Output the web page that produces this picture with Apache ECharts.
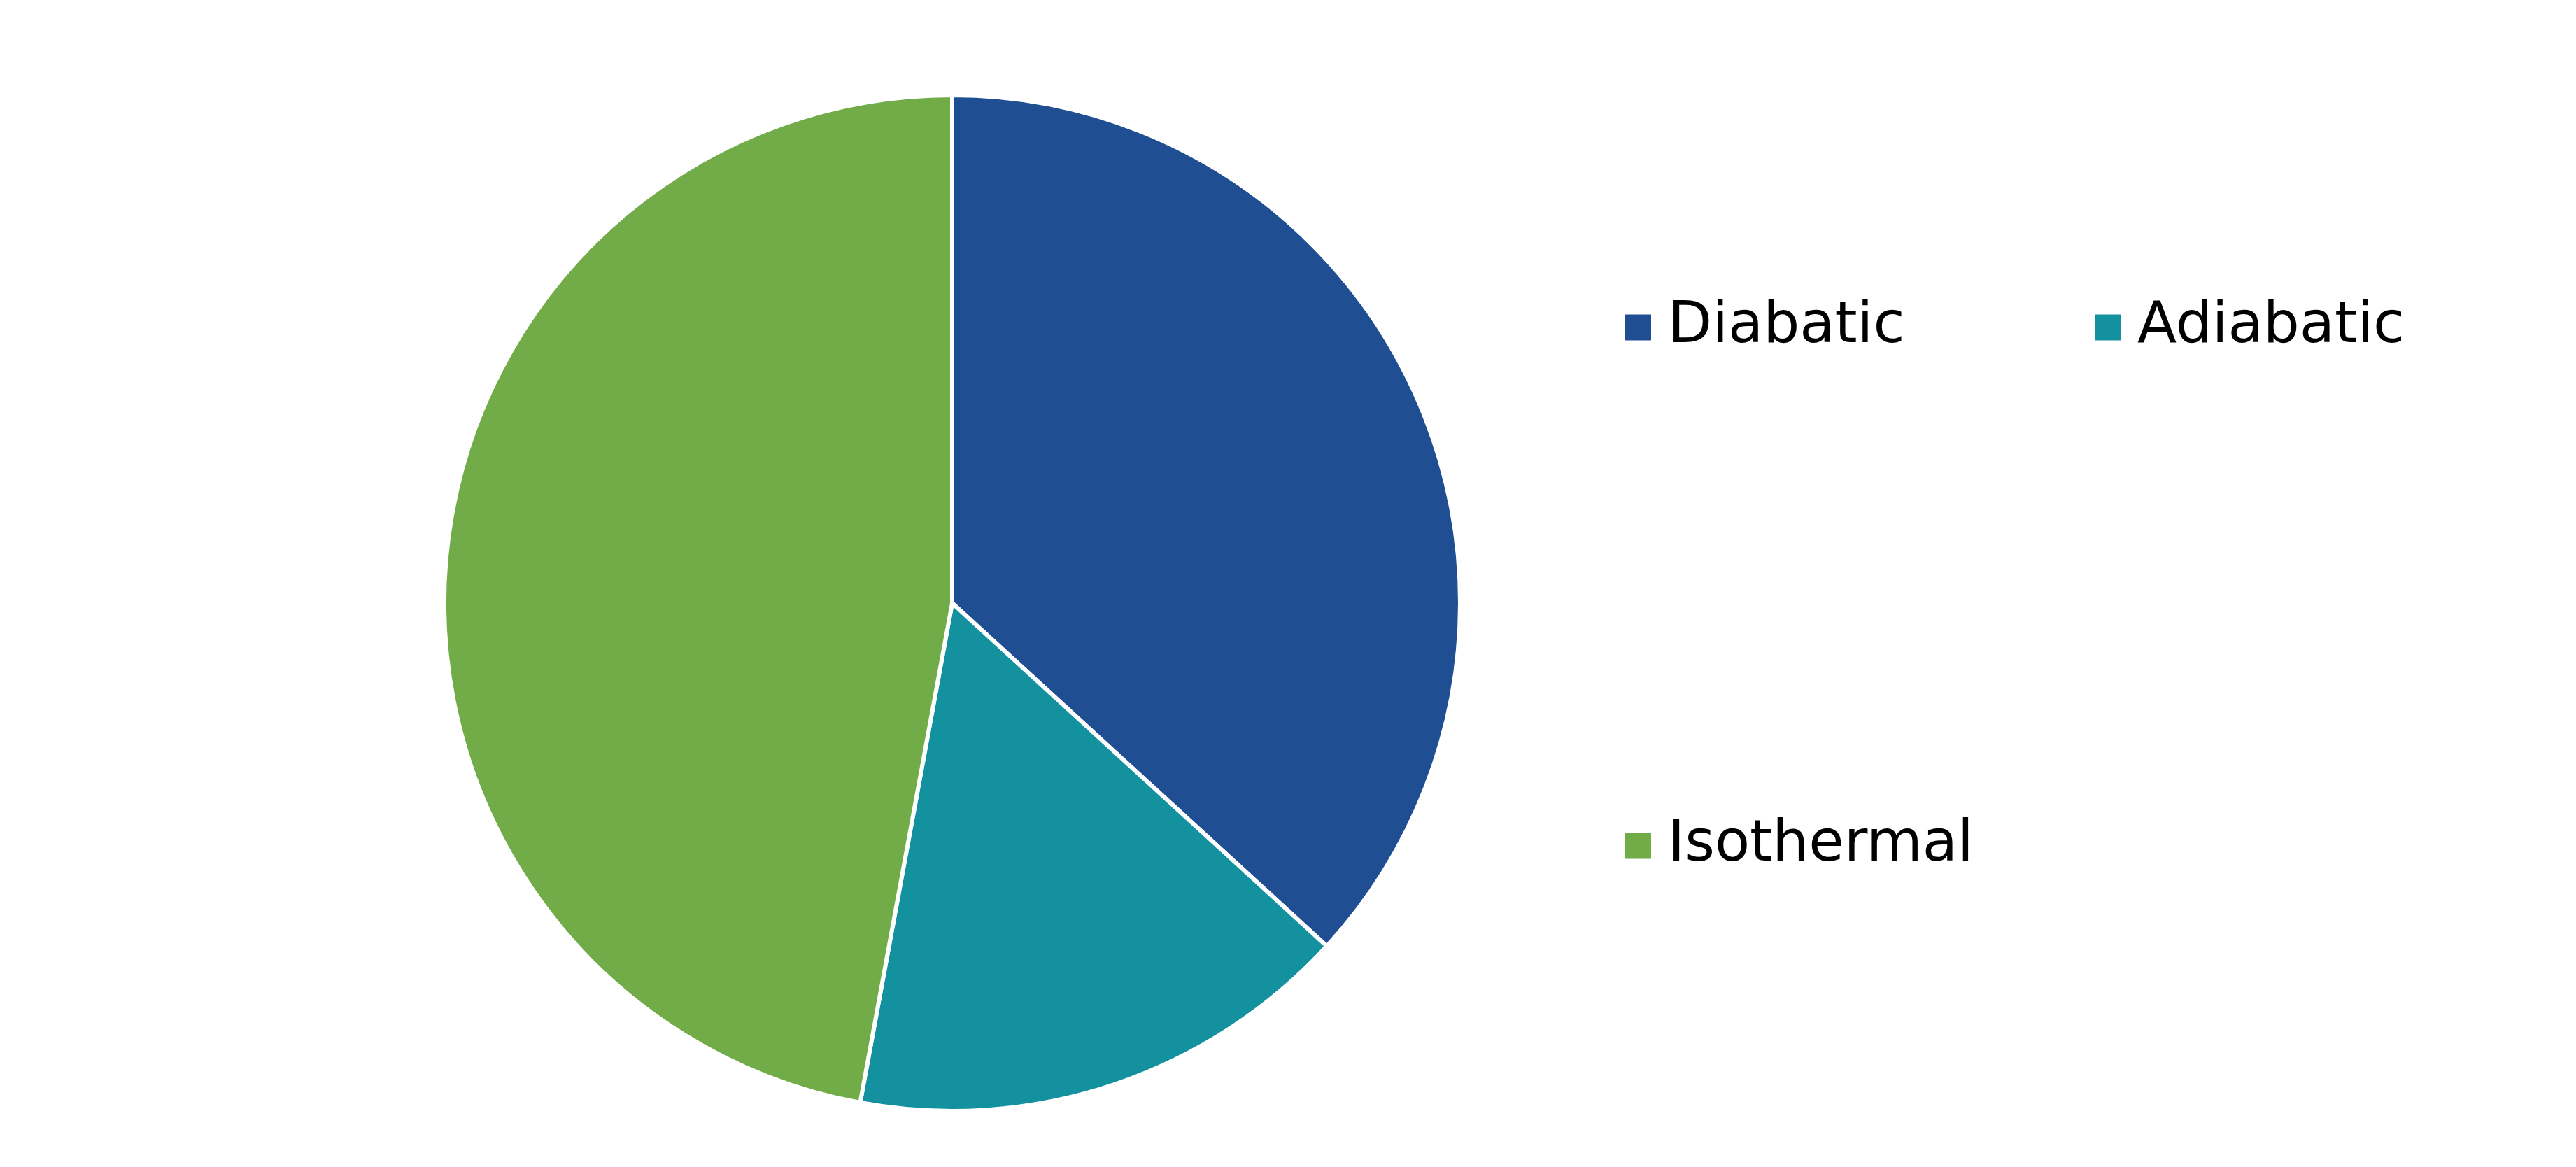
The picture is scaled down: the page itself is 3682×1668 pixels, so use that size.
<!DOCTYPE html>
<html lang="en">

<head>
  <meta charset="UTF-8" />
  <script src="https://cdn.jsdelivr.net/npm/echarts@6/dist/echarts.min.js"></script>
  <title>Process share</title>
  <style>
    html, body { margin: 0; padding: 0; background: #fff; }
  </style>
</head>

<body>
  <div id="main" style="width: 3682px; height: 1668px;"></div>
  <script type="text/javascript">
    // data (share of total, %)
    var categories = ["Diabatic", "Adiabatic", "Isothermal"];
    var values = [36.8, 16.1, 47.1];
    var colors = ["#1f4e93", "#13919f", "#71ac48"];

    // legend item spots (left, top) - one legend per item so they line up like a grid
    var legendSpots = [
      [2321, 427],
      [2992, 427],
      [2321, 1168],
    ];

    var pieData = categories.map(function (name, i) {
      return { name: name, value: values[i], itemStyle: { color: colors[i] } };
    });

    var legends = categories.map(function (name, i) {
      return {
        data: [name],
        left: legendSpots[i][0],
        top: legendSpots[i][1],
        orient: "horizontal",
        icon: "rect",
        itemWidth: 39,
        itemHeight: 39,
        selectedMode: false,
        padding: 0,
        textStyle: {
          fontFamily: "DejaVu Sans",
          fontSize: 82,
          lineHeight: 39,
          color: "#000",
          padding: [0, 0, 0, 18],
        },
      };
    });

    var myChart = echarts.init(document.getElementById("main"));
    myChart.setOption({
      animation: false,
      backgroundColor: "#fff",
      legend: legends,
      series: [
        {
          type: "pie",
          center: [1361, 862],
          radius: 726,
          startAngle: 90,
          clockwise: true,
          label: { show: false },
          labelLine: { show: false },
          emphasis: { disabled: true },
          itemStyle: {
            borderColor: "#fff",
            borderWidth: 6,
          },
          data: pieData,
        },
      ],
    });
  </script>
</body>

</html>
